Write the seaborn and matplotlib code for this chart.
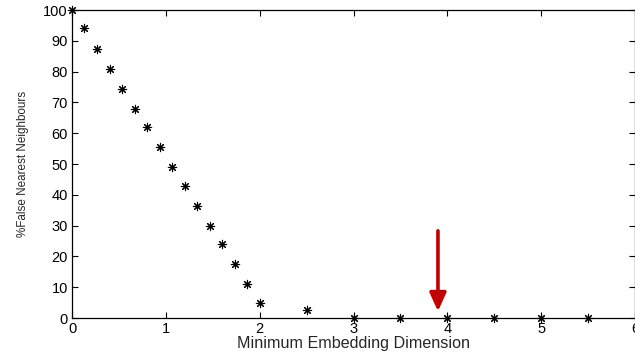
import matplotlib
matplotlib.use("Agg")
import matplotlib.pyplot as plt
import seaborn as sns
import pandas as pd

# Embedding dimension vs. percentage of false nearest neighbours
dimension = [0.0, 0.133, 0.267, 0.4, 0.533, 0.667, 0.8, 0.933, 1.067, 1.2,
             1.333, 1.467, 1.6, 1.733, 1.867, 2.0, 2.5, 3.0, 3.5, 4.0, 4.5,
             5.0, 5.5]
false_nn = [100, 94, 87.5, 81, 74.5, 68, 62, 55.5, 49, 43, 36.5, 30, 24,
            17.5, 11, 5, 2.5, 0, 0, 0, 0, 0, 0]

x_ticks = [0, 1, 2, 3, 4, 5, 6]
y_ticks = [0, 10, 20, 30, 40, 50, 60, 70, 80, 90, 100]

# Chosen dimension marked by the arrow
arrow_x = 3.9
arrow_top = 28.3
arrow_tip = 2.2

df = pd.DataFrame({"dim": dimension, "fnn": false_nn})

sns.set_style("ticks")
plt.rcParams["font.family"] = ["Liberation Sans", "DejaVu Sans"]

fig = plt.figure(figsize=(6.35, 3.56), dpi=100)
ax = fig.add_axes([0.1134, 0.1067, 0.8866, 0.8652])

sns.scatterplot(data=df, x="dim", y="fnn", ax=ax, marker=(8, 2, 0),
                s=36, color="black", linewidth=0.8, edgecolor="black",
                zorder=3, clip_on=False)

ax.annotate("", xy=(arrow_x, arrow_tip), xytext=(arrow_x, arrow_top),
            arrowprops=dict(arrowstyle="-|>,head_length=1.1,head_width=0.5",
                            color="#c00000", lw=2.6, shrinkA=0, shrinkB=0))

ax.set_xlim(0, 6)
ax.set_ylim(0, 100)
ax.set_xticks(x_ticks)
ax.set_yticks(y_ticks)
ax.tick_params(direction="in", length=4, width=0.8, labelsize=10.5,
               colors="black", top=True, right=True, pad=3)
for side in ["top", "right", "left", "bottom"]:
    ax.spines[side].set_visible(True)
    ax.spines[side].set_linewidth(0.9)
    ax.spines[side].set_color("black")

ax.set_xlabel("Minimum Embedding Dimension", fontsize=11.6, labelpad=0)
ax.set_ylabel("%False Nearest Neighbours", fontsize=8.4, labelpad=10)

fig.savefig("out.png", dpi=100)
